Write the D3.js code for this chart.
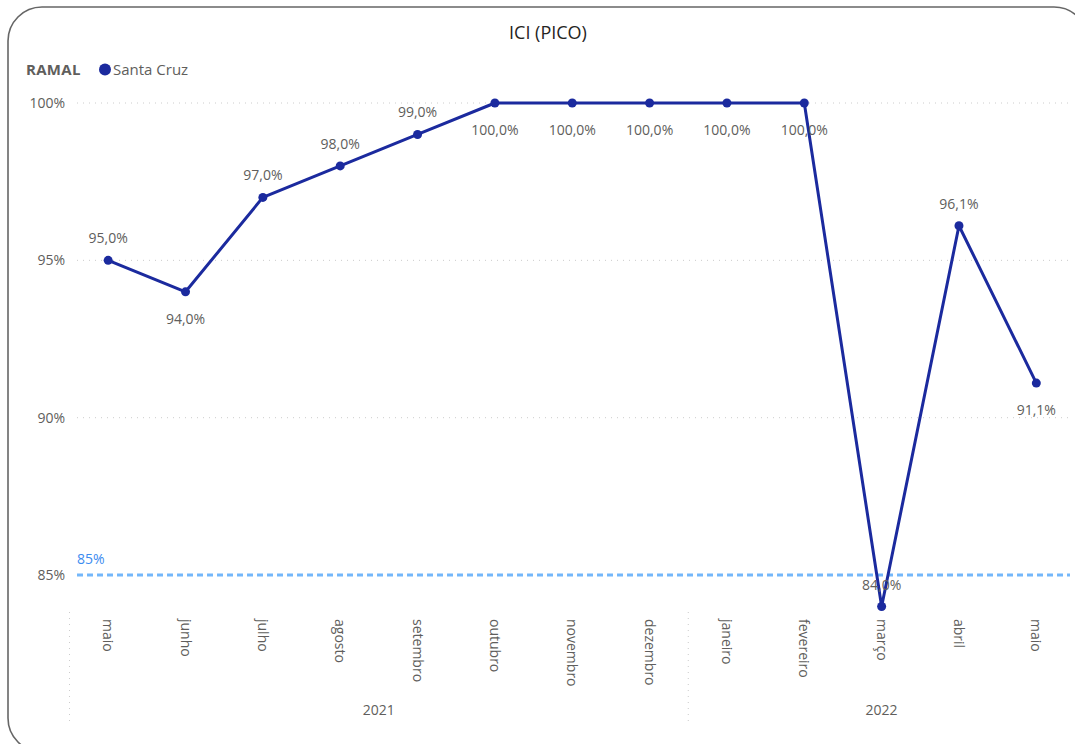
<!DOCTYPE html>
<html>
<head>
<meta charset="utf-8">
<script src="https://cdn.jsdelivr.net/npm/d3@7"></script>
<style>
  body { margin: 0; background: #fff; }
  svg { display: block; font-family: "Open Sans", "Noto Sans", sans-serif; }
</style>
</head>
<body>
<div id="chart"></div>
<script>
// chart data
var months = ["maio", "junho", "julho", "agosto", "setembro", "outubro", "novembro", "dezembro",
              "janeiro", "fevereiro", "março", "abril", "maio"];
var years = ["2021", "2021", "2021", "2021", "2021", "2021", "2021", "2021",
             "2022", "2022", "2022", "2022", "2022"];
var values = [95.0, 94.0, 97.0, 98.0, 99.0, 100.0, 100.0, 100.0, 100.0, 100.0, 84.0, 96.1, 91.1];
var labelBelow = [false, true, false, false, false, true, true, true, true, true, false, false, true];
var yTicks = [85, 90, 95, 100];
var target = 85;

var W = 1075, H = 744;
var lineColor = "#1B2A9E";
var textColor = "#605E5C";

var svg = d3.select("#chart").append("svg")
    .attr("width", W)
    .attr("height", H);

// card border
svg.append("rect")
    .attr("x", 8).attr("y", 7)
    .attr("width", 1080).attr("height", 745)
    .attr("rx", 34).attr("ry", 34)
    .attr("fill", "#fff")
    .attr("stroke", "#666")
    .attr("stroke-width", 1.6);

svg.append("text")
    .attr("x", 548).attr("y", 39)
    .attr("text-anchor", "middle")
    .attr("font-size", 18)
    .attr("fill", "#252423")
    .text("ICI (PICO)");

// legend
svg.append("text")
    .attr("x", 26).attr("y", 75)
    .attr("font-size", 15)
    .attr("font-weight", "bold")
    .attr("letter-spacing", "0.3")
    .attr("fill", textColor)
    .text("RAMAL");
svg.append("circle")
    .attr("cx", 105).attr("cy", 69.5).attr("r", 6)
    .attr("fill", lineColor);
svg.append("text")
    .attr("x", 113).attr("y", 75)
    .attr("font-size", 15)
    .attr("fill", textColor)
    .text("Santa Cruz");

var keys = months.map(function(m, i) { return i; });
var x = d3.scaleBand().domain(keys).range([69.5, 1075]);
var y = d3.scaleLinear().domain([84, 100]).range([606.5, 103]);

function cx(i) { return x(i) + x.bandwidth() / 2; }

// gridlines
svg.append("g").selectAll("line")
    .data(yTicks.filter(function(t) { return t != target; }))
    .enter().append("line")
    .attr("x1", 77).attr("x2", 1068)
    .attr("y1", function(d) { return y(d); })
    .attr("y2", function(d) { return y(d); })
    .attr("stroke", "#ccc")
    .attr("stroke-width", 1)
    .attr("stroke-dasharray", "1,5");

// y axis
var yAxis = svg.append("g")
    .attr("transform", "translate(67,0)")
    .call(d3.axisLeft(y).tickValues(yTicks).tickSize(0).tickPadding(2)
        .tickFormat(function(d) { return d + "%"; }));
yAxis.select(".domain").remove();
yAxis.selectAll("text")
    .attr("font-family", "Open Sans, sans-serif")
    .attr("font-size", 14)
    .attr("fill", textColor);

// 85% target line
svg.append("line")
    .attr("x1", 77).attr("x2", 1070)
    .attr("y1", y(target)).attr("y2", y(target))
    .attr("stroke", "#74B7FA")
    .attr("stroke-width", 3)
    .attr("stroke-dasharray", "6,4");
svg.append("text")
    .attr("x", 77).attr("y", y(target) - 11)
    .attr("font-size", 14)
    .attr("fill", "#3C8CF0")
    .text(target + "%");

// x axis (rotated month labels)
var xAxis = svg.append("g")
    .attr("transform", "translate(0,614)")
    .call(d3.axisBottom(x).tickSize(0).tickPadding(0)
        .tickFormat(function(i) { return months[i]; }));
xAxis.select(".domain").remove();
xAxis.selectAll("text")
    .attr("font-family", "Open Sans, sans-serif")
    .attr("font-size", 14)
    .attr("fill", textColor)
    .attr("text-anchor", "start")
    .attr("dy", "0.35em")
    .attr("transform", "translate(0,5) rotate(90)");

// year groups
var yearNames = ["2021", "2022"];
yearNames.forEach(function(yr) {
    var idx = keys.filter(function(i) { return years[i] == yr; });
    var x0 = x(idx[0]);
    var x1 = x(idx[idx.length - 1]) + x.bandwidth();
    svg.append("line")
        .attr("x1", x0).attr("x2", x0)
        .attr("y1", 612).attr("y2", 722)
        .attr("stroke", "#ccc")
        .attr("stroke-dasharray", "1,5");
    svg.append("text")
        .attr("x", (x0 + x1) / 2).attr("y", 715)
        .attr("text-anchor", "middle")
        .attr("font-size", 14)
        .attr("fill", textColor)
        .text(yr);
});

// line and points
var line = d3.line()
    .x(function(d, i) { return cx(i); })
    .y(function(d) { return y(d); });

svg.append("path")
    .datum(values)
    .attr("d", line)
    .attr("fill", "none")
    .attr("stroke", lineColor)
    .attr("stroke-width", 3)
    .attr("stroke-linejoin", "round");

svg.append("g").selectAll("circle")
    .data(values)
    .enter().append("circle")
    .attr("cx", function(d, i) { return cx(i); })
    .attr("cy", function(d) { return y(d); })
    .attr("r", 4.5)
    .attr("fill", lineColor);

// data labels
svg.append("g").selectAll("text")
    .data(values)
    .enter().append("text")
    .attr("x", function(d, i) { return cx(i); })
    .attr("y", function(d, i) { return labelBelow[i] ? y(d) + 32 : y(d) - 17; })
    .attr("text-anchor", "middle")
    .attr("font-size", 14)
    .attr("fill", textColor)
    .text(function(d) { return d.toFixed(1).replace(".", ",") + "%"; });
</script>
</body>
</html>
